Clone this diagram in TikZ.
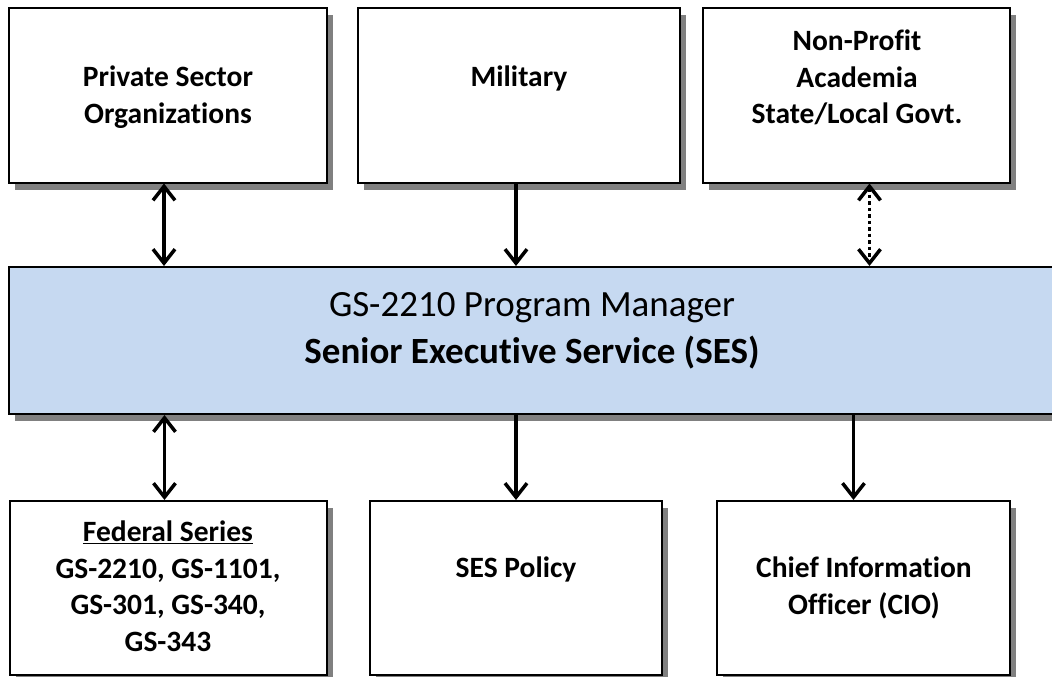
\documentclass[tikz,border=0pt]{standalone}
\usepackage{fontspec}
\setmainfont{Carlito}[Ligatures=NoCommon]
\usepackage{xcolor}
\usepackage{tikz}
\usetikzlibrary{arrows.meta,shadows}

\definecolor{barblue}{HTML}{C6D9F1}
\definecolor{shadowgray}{HTML}{808080}

\begin{document}
\begin{tikzpicture}[x=1pt, y=-1pt,
    panel/.style={draw, line width=2pt, fill=white, inner sep=0pt,
      minimum width=#1, minimum height=174pt,
      drop shadow={shadow xshift=6pt, shadow yshift=-7pt, fill=shadowgray, opacity=1}},
    boxtext/.style={align=center, inner sep=0pt, anchor=north,
      font=\fontsize{29.5}{36.5}\selectfont\bfseries},
    oneway/.style={line width=3.5pt, -{Straight Barb[length=14pt, width=22pt]}},
    twoway/.style={line width=3.5pt, {Straight Barb[length=14pt, width=22pt]}-{Straight Barb[length=14pt, width=22pt]}},
    dotway/.style={twoway, dash pattern=on 3.5pt off 3pt}]
            \useasboundingbox (0, 0) rectangle (1052, 677);

            % top row
            \node[panel=318pt] (pso) at (168, 95.5) {};
            \node[panel=322pt] (mil) at (519, 95.5) {};
            \node[panel=307pt] (npo) at (856.5, 95.5) {};

            % main bar, runs off the right edge
            \node[draw, line width=2pt, fill=barblue, inner sep=0pt,
              minimum width=1070pt, minimum height=147pt,
              drop shadow={shadow xshift=6pt, shadow yshift=-7pt, fill=shadowgray, opacity=1}]
              (bar) at (544, 340.5) {};

            % bottom row
            \node[panel=317pt] (fed) at (168.5, 588) {};
            \node[panel=292pt] (sesp) at (516, 588) {};
            \node[panel=293pt] (cio) at (863.5, 588) {};

            \node[boxtext] (psolbl) at (168, 66) {Private Sector\\Organizations};
            \node[boxtext] (millbl) at (519, 66) {Military};
            \node[boxtext] (npolbl) at (857, 30) {Non-Profit\\Academia\\State/Local Govt.};
            \node[align=center, inner sep=0pt, anchor=north,
              font=\fontsize{37}{47}\selectfont] (barlbl) at (532, 292)
              {GS-2210 Program Manager\\\textbf{Senior Executive Service (SES)}};
            \node[boxtext] (fedlbl) at (168, 521)
              {\underline{Federal Series}\\GS-2210, GS-1101,\\GS-301, GS-340,\\GS-343};
            \node[boxtext] (sesplbl) at (516, 557) {SES Policy};
            \node[boxtext] (ciolbl) at (864, 557) {Chief Information\\Officer (CIO)};

            \draw[twoway] ([xshift=-4pt]pso.south) -- ([xshift=-4pt]pso.south |- bar.north); % pso-bar
            \draw[oneway] ([xshift=-3pt]mil.south) -- ([xshift=-3pt]mil.south |- bar.north); % mil-bar
            \draw[dotway] ([xshift=13pt]npo.south) -- ([xshift=13pt]npo.south |- bar.north); % npo-bar
            \draw[twoway] ([xshift=-4pt]fed.north |- bar.south) -- ([xshift=-4pt]fed.north); % bar-fed
            \draw[oneway] (sesp.north |- bar.south) -- (sesp.north); % bar-sesp
            \draw[oneway] ([xshift=-10pt]cio.north |- bar.south) -- ([xshift=-10pt]cio.north); % bar-cio
        \end{tikzpicture}
\end{document}
